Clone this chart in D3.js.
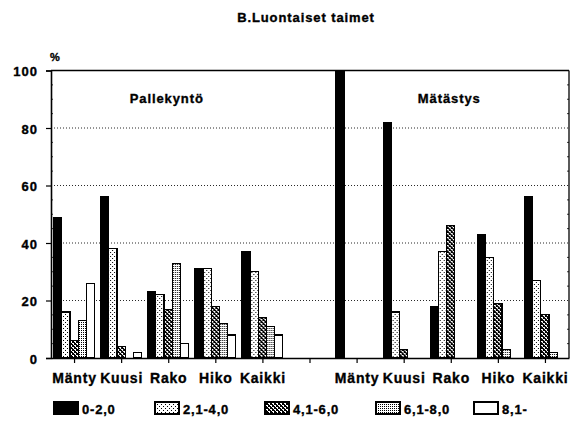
<!DOCTYPE html>
<html>
<head>
<meta charset="utf-8">
<script src="https://cdn.jsdelivr.net/npm/d3@7"></script>
<style>
  body { margin: 0; background: #fff; }
  svg { font-family: "Liberation Sans", Arial, sans-serif; font-weight: bold; }
  .heavy { stroke: #000; stroke-width: 0.35px; }
</style>
</head>
<body>
<svg id="chart" width="579" height="430"></svg>
<script>
// chart data
const title = "B.Luontaiset taimet";
const panelNames = ["Pallekyntö", "Mätästys"];
const categories = ["Mänty", "Kuusi", "Rako", "Hiko", "Kaikki"];
const seriesNames = ["0-2,0", "2,1-4,0", "4,1-6,0", "6,1-8,0", "8,1-"];
const yTicks = [0, 20, 40, 60, 80, 100];

// one row per category, one value per series (%)
const pallekyntoValues = [
  [49, 16, 6, 13, 26],
  [56, 38, 4, 0, 2],
  [23, 22, 17, 33, 5],
  [31, 31, 18, 12, 8],
  [37, 30, 14, 11, 8],
];
const matastysValues = [
  [100, 0, 0, 0, 0],
  [82, 16, 3, 0, 0],
  [18, 37, 46, 0, 0],
  [43, 35, 19, 3, 0],
  [56, 27, 15, 2, 0],
];

const svg = d3.select("#chart");
const W = 579, H = 430;
const margin = { top: 70.5, right: 10, bottom: 72, left: 51 };
const plotRight = W - margin.right;
const plotBottom = H - margin.bottom;

// fill patterns (old b/w print style)
const defs = svg.append("defs");
function pattern(id, size, bg, dots) {
  const p = defs.append("pattern")
    .attr("id", id)
    .attr("patternUnits", "userSpaceOnUse")
    .attr("width", size).attr("height", size);
  p.append("rect").attr("width", size).attr("height", size).attr("fill", bg);
  dots.forEach(([x, y]) => {
    p.append("rect").attr("x", x).attr("y", y)
      .attr("width", 1).attr("height", 1).attr("fill", "#000");
  });
}
pattern("p-sparse", 4, "#fff", [[0, 0], [2, 2]]);
pattern("p-cross", 4, "#fff", [
  [0, 0], [1, 1], [2, 2], [3, 3], [3, 0], [2, 1], [1, 2], [0, 3], [1, 0], [3, 2],
]);
pattern("p-dense", 2, "#fff", [[0, 0]]);
const fills = ["#000", "url(#p-sparse)", "url(#p-cross)", "url(#p-dense)", "#fff"];

// 11 bands: 5 + gap + 5
const bandKeys = [
  ...categories.map((c) => "P|" + c),
  "gap",
  ...categories.map((c) => "M|" + c),
];
const x0 = d3.scaleBand().domain(bandKeys).range([margin.left, plotRight]).padding(0);
const x1 = d3.scaleBand().domain(seriesNames).range([2.5, 43.5]).padding(0);
const y = d3.scaleLinear().domain([0, 100]).range([plotBottom, margin.top]);

// gridlines
svg.append("g")
  .selectAll("line")
  .data(yTicks.filter((t) => t > 0 && t < 100))
  .join("line")
  .attr("x1", margin.left).attr("x2", plotRight)
  .attr("y1", (d) => y(d)).attr("y2", (d) => y(d))
  .attr("stroke", "#111")
  .attr("stroke-width", 0.9)
  .attr("stroke-dasharray", "1 2");

// bars
const rows = [
  ...pallekyntoValues.map((v, i) => ({ key: "P|" + categories[i], values: v })),
  ...matastysValues.map((v, i) => ({ key: "M|" + categories[i], values: v })),
];
const gBars = svg.append("g").attr("shape-rendering", "crispEdges");
rows.forEach((row) => {
  gBars.append("g")
    .attr("transform", `translate(${x0(row.key)},0)`)
    .selectAll("rect")
    .data(row.values.map((v, j) => ({ v, s: seriesNames[j], j })).filter((d) => d.v > 0))
    .join("rect")
    .attr("x", (d) => x1(d.s))
    .attr("width", x1.bandwidth())
    .attr("y", (d) => y(d.v))
    .attr("height", (d) => y(0) - y(d.v))
    .attr("fill", (d) => fills[d.j])
    .attr("stroke", "#000")
    .attr("stroke-width", 1.2);
});

// frame: top and right
svg.append("line")
  .attr("x1", margin.left).attr("x2", plotRight)
  .attr("y1", y(100)).attr("y2", y(100))
  .attr("stroke", "#000").attr("stroke-width", 1.3);
svg.append("line")
  .attr("x1", plotRight).attr("x2", plotRight)
  .attr("y1", y(100)).attr("y2", y(0))
  .attr("stroke", "#000").attr("stroke-width", 1.3);

// minor ticks along left and right edges
const minor = d3.range(5, 100, 5).filter((d) => d % 20 !== 0);
svg.append("g").selectAll("line").data(minor).join("line")
  .attr("x1", margin.left).attr("x2", margin.left + 2)
  .attr("y1", (d) => y(d)).attr("y2", (d) => y(d))
  .attr("stroke", "#000").attr("stroke-width", 0.8);
svg.append("g").selectAll("line").data(minor).join("line")
  .attr("x1", plotRight).attr("x2", plotRight - 2)
  .attr("y1", (d) => y(d)).attr("y2", (d) => y(d))
  .attr("stroke", "#000").attr("stroke-width", 0.8);

// y axis
svg.append("g")
  .attr("transform", `translate(${margin.left},0)`)
  .call(d3.axisLeft(y).tickValues(yTicks).tickSize(5).tickPadding(8))
  .call((g) => {
    g.select(".domain").attr("stroke-width", 1.6);
    g.selectAll(".tick line").attr("stroke-width", 1.2);
    g.selectAll(".tick text")
      .attr("class", "heavy")
      .attr("font-family", "Liberation Sans, Arial, sans-serif")
      .attr("font-weight", "bold")
      .attr("font-size", 13)
      .attr("letter-spacing", 1)
      .attr("dy", "0.4em");
  });

// x axis
svg.append("g")
  .attr("transform", `translate(0,${plotBottom})`)
  .call(d3.axisBottom(x0).tickSize(5).tickSizeOuter(0)
    .tickFormat((d) => (d === "gap" ? "" : d.split("|")[1])))
  .call((g) => {
    g.select(".domain").attr("stroke-width", 1.6);
    g.selectAll(".tick line").attr("stroke-width", 1.2);
    g.selectAll(".tick text")
      .attr("class", "heavy")
      .attr("font-family", "Liberation Sans, Arial, sans-serif")
      .attr("font-weight", "bold")
      .attr("font-size", 14)
      .attr("letter-spacing", 0.8)
      .attr("y", 15)
      .attr("dy", "0.71em");
  });

// y unit
svg.append("text")
  .attr("class", "heavy")
  .attr("x", margin.left - 1).attr("y", 61)
  .attr("font-size", 11)
  .text("%");

// title
svg.append("text")
  .attr("class", "heavy")
  .attr("x", 306).attr("y", 22)
  .attr("text-anchor", "middle")
  .attr("font-size", 13)
  .attr("letter-spacing", 0.9)
  .text(title);

// panel names
const panelCenters = [
  (x0("P|Mänty") + x0("P|Kaikki") + x0.bandwidth()) / 2,
  (x0("M|Mänty") + x0("M|Kaikki") + x0.bandwidth()) / 2,
];
svg.append("g").selectAll("text").data(panelNames).join("text")
  .attr("class", "heavy")
  .attr("x", (d, i) => panelCenters[i] - 2)
  .attr("y", 103)
  .attr("text-anchor", "middle")
  .attr("font-size", 13)
  .attr("letter-spacing", 0.9)
  .text((d) => d);

// legend
const legendX = [54, 155, 265, 376, 474];
const legend = svg.append("g").attr("transform", "translate(0,402)");
seriesNames.forEach((name, i) => {
  const item = legend.append("g").attr("transform", `translate(${legendX[i]},0)`);
  item.append("rect")
    .attr("width", 24).attr("height", 12)
    .attr("fill", fills[i])
    .attr("stroke", "#000").attr("stroke-width", 1.2)
    .attr("shape-rendering", "crispEdges");
  item.append("text")
    .attr("class", "heavy")
    .attr("x", 28).attr("y", 12)
    .attr("font-size", 13)
    .attr("letter-spacing", 0.8)
    .text(name);
});
</script>
</body>
</html>
